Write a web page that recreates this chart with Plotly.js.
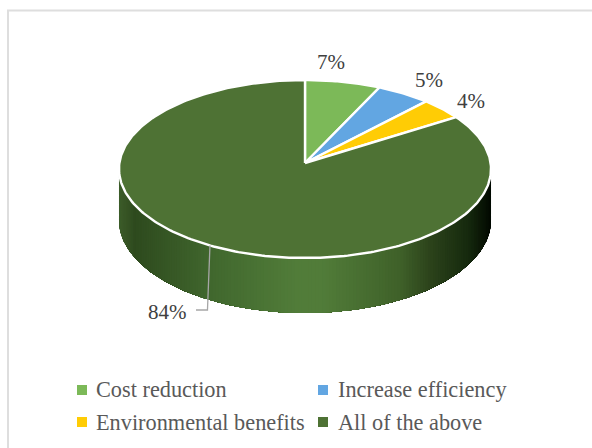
<!DOCTYPE html>
<html>
<head>
<meta charset="utf-8">
<script src="https://cdn.plot.ly/plotly-3.0.1.min.js"></script>
<style>html,body{margin:0;padding:0;background:#fff}</style>
</head>
<body>
<div id="chart" style="width:592px;height:448px"></div>
<script>
// Share of respondents per perceived benefit
const categories = ["Cost reduction", "Increase efficiency", "Environmental benefits", "All of the above"];
const shares = [7, 5, 4, 84];
const sliceColors = ["#7cb958", "#62a6e2", "#ffcc05", "#4e7234"];

// Tilted-disc projection parameters (plot units equal pixels)
const radiusX = 185.6, radiusY = 88.6, tilt = 0.0674;
const wallDepth = 51, wallFlare = 4;

// Wall shading from the left extreme to the right extreme of the disc
const shadeStops = [0, 0.04, 0.25, 0.47, 0.55, 0.76, 0.84, 0.94, 1];
const shadeColors = ["#3d5c2a", "#2e4a1e", "#41682e", "#517c39", "#517c39", "#3f6129", "#2c431b", "#162a0e", "#030a02"];

// Label nudges from the rim, one pair per slice
const labelNudgeX = [-12, 25, 29, -42];
const labelNudgeY = [20, 14, 8, -66];

// Legend placement in plot units
const legendSwatchX = [-223, 18, -223, 18];
const legendTextX = [-209, 33, -209, 33];
const legendSwatchY = [-227, -227, -259, -259];
const legendTextY = [-226.5, -226.5, -259.5, -259.5];

const rad = d => d * Math.PI / 180;
function rim(deg) {
  const w = 1 + tilt * Math.cos(rad(deg));
  return [radiusX * Math.sin(rad(deg)) / w, radiusY * Math.cos(rad(deg)) / w];
}
function hexRgb(h) { return [1, 3, 5].map(i => parseInt(h.substr(i, 2), 16)); }
function shade(f) {
  let i = 0;
  while (i < shadeStops.length - 2 && f > shadeStops[i + 1]) i++;
  const t = Math.min(1, Math.max(0, (f - shadeStops[i]) / (shadeStops[i + 1] - shadeStops[i])));
  const a = hexRgb(shadeColors[i]), b = hexRgb(shadeColors[i + 1]);
  return "rgb(" + a.map((v, k) => Math.round(v + (b[k] - v) * t)).join(",") + ")";
}

const traces = [];

// Side wall painted from both extremes toward the front, so neighbouring bands leave no seams
function wallBand(from, to) {
  const xs = [], ys = [], dir = to > from ? 1 : -1;
  for (let a = from; dir * (a - to) <= 0; a += dir) { const p = rim(a); xs.push(p[0]); ys.push(p[1]); }
  for (let a = to; dir * (a - from) >= 0; a -= dir) {
    const p = rim(a); xs.push(p[0]); ys.push(p[1] - wallDepth + wallFlare * Math.cos(rad(a)));
  }
  const c = shade((rim(from)[0] / radiusX + 1) / 2);
  traces.push({
    x: xs, y: ys, mode: "lines", fill: "toself", fillcolor: c,
    line: { width: 0 }, hoverinfo: "skip", showlegend: false
  });
}
for (let d = 90; d < 180; d += 1) wallBand(d, 180);
for (let d = 270; d >= 180; d -= 1) wallBand(d, 180);

// Top-face slices
let start = 0;
const total = shares.reduce((s, v) => s + v, 0);
const mids = [];
shares.forEach((v, i) => {
  const end = start + v / total * 360;
  const xs = [0], ys = [0];
  for (let a = start; a < end; a += 1) { const p = rim(a); xs.push(p[0]); ys.push(p[1]); }
  const p = rim(end); xs.push(p[0], 0); ys.push(p[1], 0);
  traces.push({
    x: xs, y: ys, mode: "lines", fill: "toself", fillcolor: sliceColors[i],
    line: { color: "#ffffff", width: 2.4 }, hoverinfo: "skip", showlegend: false, name: categories[i]
  });
  mids.push((start + end) / 2);
  start = end;
});

// Leader line of the largest slice
const big = shares.indexOf(Math.max(...shares));
const anchor = rim(mids[big]);
const labelPos = shares.map((v, i) => { const p = rim(mids[i]); return [p[0] + labelNudgeX[i], p[1] + labelNudgeY[i]]; });
traces.push({
  x: [anchor[0], labelPos[big][0] + 39.5, labelPos[big][0] + 28],
  y: [anchor[1], labelPos[big][1] + 1.5, labelPos[big][1] + 1.5],
  mode: "lines", line: { color: "#a6a6a6", width: 1.3 }, hoverinfo: "skip", showlegend: false
});

// Legend swatches
categories.forEach((c, i) => {
  traces.push({
    x: [legendSwatchX[i]], y: [legendSwatchY[i]], mode: "markers", name: c, showlegend: false,
    marker: { symbol: "square", size: 10, color: sliceColors[i] }, hoverinfo: "skip"
  });
});

const layout = {
  width: 592, height: 448, autosize: false, showlegend: false,
  margin: { l: 0, r: 0, t: 0, b: 0 },
  paper_bgcolor: "#ffffff", plot_bgcolor: "#ffffff",
  font: { family: "'Liberation Serif', serif", color: "#595959", size: 22 },
  xaxis: { visible: false, range: [-305, 287], fixedrange: true },
  yaxis: { visible: false, range: [-285, 163], fixedrange: true },
  shapes: [{
    type: "rect", xref: "paper", yref: "paper", x0: 8 / 592, x1: 1.01, y0: -0.01, y1: 1 - 10.5 / 448,
    line: { color: "#dedede", width: 2 }, layer: "below"
  }],
  annotations: shares.map((v, i) => ({
    x: labelPos[i][0], y: labelPos[i][1], xref: "x", yref: "y", text: v + "%",
    showarrow: false, font: { size: 21, color: "#404040" }
  })).concat(categories.map((c, i) => ({
    x: legendTextX[i], y: legendTextY[i], xref: "x", yref: "y", text: c, xanchor: "left",
    showarrow: false, xshift: -2, font: { size: 22.3, color: "#595959" }
  })))
};

Plotly.newPlot("chart", traces, layout, { displayModeBar: false, staticPlot: true });
</script>
</body>
</html>
